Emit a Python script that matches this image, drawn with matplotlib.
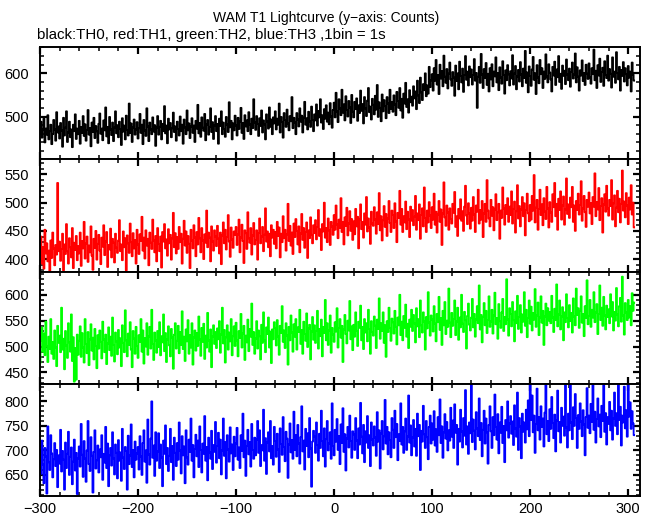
import numpy as np
import matplotlib
matplotlib.use('Agg')
import matplotlib.pyplot as plt
from matplotlib.ticker import MultipleLocator

plt.rcParams['font.family'] = ['Liberation Sans', 'DejaVu Sans']

title = 'WAM T1 Lightcurve (y\u2212axis: Counts)'
subtitle = 'black:TH0, red:TH1, green:TH2, blue:TH3 ,1bin = 1s'

t_start = -300   # first bin (s), 1 bin = 1 s

# TH0 (black)
th0 = [
    462, 488, 451, 470, 495, 440, 472, 458, 503, 447, 466, 481, 436, 459, 492, 470, 444, 510, 463, 477,
    449, 485, 468, 430, 497, 456, 474, 512, 441, 463, 488, 452, 470, 429, 481, 466, 505, 448, 472, 459,
    490, 437, 476, 462, 501, 455, 482, 444, 469, 515, 458, 473, 431, 486, 464, 497, 450, 478, 466, 439,
    483, 507, 460, 472, 445, 491, 468, 521, 454, 476, 438, 499, 470, 457, 486, 443, 474, 512, 461, 480,
    452, 488, 471, 434, 496, 465, 479, 447, 502, 469, 456, 530, 462, 484, 441, 475, 493, 458, 470, 487,
    449, 473, 506, 462, 481, 436, 492, 468, 455, 519, 477, 443, 486, 470, 459, 498, 465, 480, 432, 474,
    501, 458, 476, 490, 447, 483, 466, 524, 461, 479, 438, 495, 470, 485, 452, 473, 509, 464, 477, 444,
    488, 471, 456, 500, 466, 481, 437, 493, 475, 459, 514, 468, 484, 450, 477, 496, 462, 479, 441, 490,
    472, 527, 461, 485, 453, 498, 474, 467, 506, 445, 481, 492, 458, 476, 519, 464, 487, 448, 479, 501,
    466, 483, 437, 495, 478, 512, 459, 486, 471, 453, 499, 481, 464, 533, 475, 490, 447, 484, 468, 502,
    479, 456, 497, 471, 488, 520, 462, 485, 448, 503, 477, 491, 466, 510, 482, 459, 495, 473, 540, 486,
    469, 501, 483, 455, 496, 478, 514, 463, 491, 482, 447, 505, 488, 472, 521, 476, 493, 459, 498, 484,
    512, 470, 495, 481, 530, 463, 499, 487, 451, 508, 492, 476, 516, 484, 468, 501, 489, 545, 473, 497,
    486, 459, 508, 493, 477, 519, 488, 502, 463, 497, 534, 481, 496, 470, 511, 489, 476, 523, 492, 466,
    505, 491, 528, 479, 513, 498, 540, 486, 503, 471, 517, 495, 526, 488, 509, 482, 531, 500, 474, 515,
    532, 498, 555, 512, 487, 540, 519, 503, 562, 509, 528, 491, 547, 515, 500, 536, 521, 485, 550, 511,
    498, 534, 517, 542, 490, 526, 508, 560, 513, 529, 484, 545, 519, 501, 537, 566, 510, 523, 493, 541,
    527, 505, 548, 516, 573, 499, 533, 520, 489, 551, 512, 538, 524, 496, 545, 530, 508, 562, 518, 534,
    511, 549, 528, 503, 557, 536, 520, 566, 514, 541, 497, 553, 530, 578, 522, 540, 509, 561, 533, 546,
    525, 570, 542, 558, 517, 583, 549, 531, 590, 556, 538, 575, 561, 600, 547, 572, 553, 615, 568, 584,
    598, 560, 612, 583, 631, 574, 596, 552, 620, 588, 605, 570, 641, 592, 578, 610, 565, 599, 625, 586,
    571, 603, 590, 548, 618, 582, 600, 563, 627, 594, 579, 611, 557, 596, 640, 585, 604, 572, 616, 591,
    609, 574, 596, 633, 583, 601, 520, 592, 615, 578, 645, 597, 566, 610, 589, 624, 573, 599, 558, 612,
    586, 621, 570, 604, 593, 637, 579, 601, 561, 614, 590, 576, 628, 596, 553, 607, 584, 619, 598, 572,
    605, 588, 642, 574, 599, 617, 563, 593, 608, 581, 626, 597, 570, 611, 589, 652, 578, 602, 556, 616,
    594, 571, 609, 638, 585, 600, 552, 619, 590, 577, 631, 598, 612, 566, 604, 587, 644, 593, 579, 621,
    602, 586, 558, 615, 595, 627, 573, 609, 591, 640, 580, 599, 564, 618, 594, 606, 575, 632, 597, 584,
    611, 569, 603, 625, 588, 597, 646, 579, 614, 592, 560, 607, 595, 630, 582, 601, 573, 620, 599, 587,
    623, 590, 576, 612, 598, 655, 584, 606, 566, 619, 595, 634, 580, 603, 613, 571, 628, 596, 589, 641,
    583, 610, 599, 567, 637, 592, 604, 578, 649, 601, 586, 615, 560, 608, 594, 626, 581, 612, 598, 572,
    617, 590, 604, 558, 625, 597, 583,
]

# TH1 (red)
th1 = [
    405, 440, 392, 421, 383, 452, 410, 428, 396, 415, 377, 433, 402, 447, 419, 389, 425, 408, 535, 414,
    431, 397, 418, 445, 380, 426, 409, 462, 414, 392, 437, 421, 403, 455, 384, 429, 416, 441, 398, 423,
    410, 447, 388, 432, 419, 466, 401, 428, 440, 395, 424, 412, 458, 406, 381, 436, 420, 450, 399, 427,
    443, 415, 391, 438, 422, 460, 407, 431, 448, 386, 425, 417, 454, 403, 436, 429, 394, 445, 420, 411,
    433, 469, 414, 426, 398, 449, 421, 437, 380, 442, 428, 411, 463, 430, 405, 446, 419, 434, 392, 452,
    426, 409, 444, 432, 475, 415, 438, 401, 451, 424, 436, 389, 447, 429, 418, 470, 433, 412, 441, 396,
    455, 427, 414, 440, 385, 448, 431, 462, 419, 435, 406, 453, 428, 443, 399, 437, 482, 421, 446, 410,
    439, 418, 457, 430, 445, 392, 436, 468, 424, 449, 411, 441, 427, 384, 452, 433, 419, 460, 438, 405,
    448, 426, 473, 437, 412, 455, 433, 400, 444, 429, 486, 421, 447, 438, 396, 458, 431, 415, 451, 440,
    423, 459, 436, 410, 447, 391, 442, 465, 428, 452, 417, 439, 478, 431, 404, 456, 435, 420, 449, 443,
    457, 425, 444, 470, 412, 438, 461, 432, 393, 451, 446, 418, 483, 437, 429, 455, 408, 442, 464, 426,
    434, 451, 399, 446, 472, 428, 440, 457, 414, 443, 490, 431, 449, 421, 445, 405, 460, 438, 452, 427,
    448, 419, 466, 441, 456, 403, 445, 430, 476, 437, 452, 415, 444, 498, 432, 459, 424, 447, 409, 463,
    439, 471, 450, 426, 458, 412, 445, 480, 434, 455, 420, 448, 465, 402, 451, 437, 474, 443, 428, 460,
    446, 469, 435, 457, 487, 441, 453, 416, 462, 449, 500, 438, 455, 430, 472, 451, 425, 466, 458, 443,
    478, 452, 495, 461, 437, 470, 455, 508, 448, 466, 426, 474, 459, 491, 442, 463, 485, 450, 471, 434,
    467, 444, 489, 458, 475, 419, 470, 497, 453, 466, 438, 481, 461, 510, 449, 472, 456, 427, 484, 463,
    459, 492, 470, 445, 483, 462, 517, 451, 476, 433, 469, 494, 457, 480, 441, 472, 503, 464, 448, 486,
    478, 455, 499, 467, 430, 482, 473, 521, 461, 489, 448, 476, 465, 502, 453, 484, 470, 439, 493, 468,
    487, 460, 475, 512, 452, 481, 469, 497, 436, 478, 490, 458, 527, 473, 448, 486, 465, 501, 477, 455,
    492, 470, 516, 461, 484, 447, 479, 503, 466, 488, 425, 481, 536, 474, 459, 495, 483, 452, 490, 471,
    463, 498, 482, 519, 457, 476, 441, 489, 472, 506, 468, 485, 450, 493, 530, 477, 462, 499, 481, 454,
    491, 468, 510, 479, 448, 495, 484, 523, 463, 487, 470, 503, 439, 481, 498, 466, 540, 486, 472, 458,
    505, 477, 492, 451, 488, 515, 469, 483, 498, 436, 486, 473, 527, 490, 461, 496, 480, 508, 466, 493,
    478, 520, 463, 489, 502, 447, 485, 531, 472, 494, 458, 488, 510, 476, 499, 442, 487, 516, 481, 467,
    496, 470, 512, 486, 549, 465, 491, 505, 452, 489, 523, 478, 497, 460, 508, 484, 471, 528, 490, 456,
    501, 483, 466, 515, 492, 535, 476, 498, 452, 507, 487, 520, 470, 495, 511, 461, 488, 543, 480, 497,
    473, 509, 492, 528, 466, 495, 450, 503, 487, 516, 479, 496, 538, 468, 490, 512, 483, 457, 505, 493,
    518, 481, 499, 462, 510, 493, 552, 476, 501, 488, 526, 469, 494, 508, 447, 497, 515, 484, 530, 490,
    477, 505, 494, 540, 470, 499, 513, 458, 491, 521, 483, 507, 465, 498, 557, 486, 502, 474, 517, 495,
    462, 509, 488, 531, 479, 500, 456,
]

# TH2 (green)
th2 = [
    468, 512, 537, 490, 525, 483, 548, 501, 470, 519, 495, 553, 486, 509, 476, 531, 498, 462, 540, 507,
    521, 489, 575, 494, 515, 456, 530, 502, 478, 545, 508, 490, 562, 472, 518, 432, 497, 436, 523, 484,
    511, 539, 480, 526, 498, 469, 553, 505, 487, 528, 464, 514, 543, 492, 517, 475, 534, 501, 458, 522,
    496, 531, 509, 477, 548, 514, 489, 523, 466, 506, 537, 493, 519, 482, 556, 503, 471, 527, 510, 485,
    532, 498, 516, 462, 541, 507, 489, 570, 512, 481, 525, 503, 547, 494, 460, 530, 515, 486, 538, 501,
    478, 522, 509, 553, 490, 531, 467, 516, 500, 545, 484, 519, 538, 496, 571, 505, 474, 527, 512, 488,
    530, 499, 547, 483, 520, 508, 562, 491, 526, 470, 514, 539, 502, 481, 534, 517, 457, 523, 545, 496,
    511, 540, 487, 528, 503, 568, 495, 519, 472, 533, 510, 551, 486, 522, 498, 545, 465, 517, 531, 492,
    526, 501, 558, 514, 482, 536, 509, 544, 476, 521, 498, 565, 512, 490, 533, 460, 519, 541, 505, 528,
    497, 535, 514, 549, 488, 523, 575, 506, 532, 469, 518, 541, 494, 527, 510, 553, 483, 520, 539, 501,
    546, 512, 481, 530, 517, 563, 498, 525, 540, 474, 521, 508, 552, 491, 534, 519, 583, 503, 528, 486,
    515, 549, 496, 531, 520, 475, 542, 507, 566, 512, 489, 537, 524, 556, 498, 529, 468, 533, 514, 547,
    536, 502, 551, 519, 484, 540, 526, 578, 509, 531, 497, 545, 521, 465, 538, 512, 560, 527, 490, 543,
    519, 553, 494, 537, 528, 571, 505, 532, 486, 548, 524, 511, 564, 499, 535, 542, 475, 529, 557, 513,
    541, 507, 530, 569, 496, 534, 520, 552, 481, 538, 526, 590, 512, 545, 503, 531, 560, 488, 536, 523,
    509, 547, 529, 574, 498, 536, 553, 517, 540, 470, 533, 561, 524, 506, 550, 531, 588, 514, 539, 493,
    542, 519, 566, 530, 501, 548, 536, 579, 512, 538, 495, 553, 527, 545, 510, 571, 534, 486, 549, 528,
    521, 558, 540, 497, 552, 534, 593, 515, 545, 530, 566, 507, 541, 480, 549, 528, 575, 536, 511, 554,
    547, 525, 569, 538, 504, 556, 541, 600, 522, 548, 512, 559, 536, 581, 519, 544, 497, 552, 538, 571,
    530, 561, 545, 508, 574, 539, 553, 518, 589, 541, 527, 566, 548, 494, 557, 535, 605, 546, 521, 560,
    552, 529, 578, 544, 510, 563, 547, 596, 532, 555, 503, 569, 541, 586, 524, 550, 538, 612, 546, 518,
    565, 540, 553, 589, 522, 548, 575, 513, 556, 537, 600, 544, 528, 567, 551, 496, 559, 583, 542, 531,
    556, 592, 537, 563, 519, 552, 578, 545, 618, 533, 561, 508, 557, 584, 541, 569, 526, 551, 597, 538,
    548, 571, 525, 560, 604, 543, 555, 515, 582, 549, 536, 566, 592, 530, 557, 543, 630, 552, 521, 574,
    563, 539, 586, 551, 510, 568, 545, 598, 534, 557, 580, 527, 562, 548, 605, 540, 571, 518, 555, 589,
    544, 577, 531, 565, 552, 611, 538, 560, 585, 522, 556, 597, 546, 569, 503, 558, 583, 541, 574, 550,
    567, 545, 598, 556, 528, 573, 551, 620, 539, 562, 589, 533, 558, 576, 512, 566, 547, 601, 555, 537,
    580, 549, 565, 527, 593, 558, 541, 612, 561, 574, 536, 569, 597, 546, 563, 520, 578, 555, 628, 543,
    559, 590, 538, 571, 556, 605, 547, 566, 582, 524, 563, 618, 551, 575, 540, 596, 560, 533, 579, 557,
    572, 545, 601, 558, 586, 531, 567, 550, 613, 562, 539, 578, 594, 548, 635, 560, 523, 584, 566, 551,
    590, 556, 578, 541, 603, 569, 585,
]

# TH3 (blue)
th3 = [
    698, 652, 720, 671, 633, 705, 688, 612, 749, 676, 660, 731, 694, 645, 682, 715, 668, 701, 625, 690,
    673, 742, 657, 699, 681, 620, 716, 664, 693, 738, 650, 687, 706, 631, 677, 722, 659, 695, 611, 684,
    708, 667, 754, 691, 646, 719, 683, 636, 700, 760, 672, 658, 727, 689, 614, 697, 741, 663, 680, 710,
    655, 702, 686, 731, 640, 693, 675, 748, 664, 714, 627, 690, 705, 669, 737, 684, 651, 712, 695, 643,
    721, 679, 696, 638, 744, 685, 662, 707, 699, 620, 730, 672, 690, 753, 666, 701, 645, 718, 681, 694,
    707, 661, 729, 688, 650, 715, 741, 677, 700, 634, 763, 692, 671, 724, 800, 685, 710, 648, 737, 679,
    698, 735, 664, 712, 686, 627, 720, 693, 751, 672, 705, 658, 689, 744, 676, 709, 640, 726, 695, 668,
    715, 681, 757, 700, 653, 729, 690, 708, 633, 741, 686, 671, 722, 697, 765, 679, 711, 645, 703, 732,
    688, 720, 666, 749, 701, 655, 714, 693, 770, 679, 707, 639, 726, 696, 683, 740, 662, 711, 697, 758,
    675, 709, 736, 684, 722, 651, 700, 765, 689, 717, 643, 731, 702, 677, 747, 694, 712, 660, 728, 688,
    714, 746, 681, 706, 664, 731, 699, 775, 686, 720, 648, 709, 742, 692, 717, 667, 754, 701, 683, 726,
    690, 722, 760, 695, 741, 668, 711, 700, 783, 679, 725, 652, 716, 737, 698, 760, 684, 709, 671, 748,
    719, 687, 734, 702, 656, 745, 713, 691, 768, 707, 678, 738, 724, 644, 712, 755, 696, 721, 683, 779,
    701, 731, 688, 752, 714, 673, 727, 790, 698, 720, 661, 744, 709, 735, 686, 766, 704, 626, 718, 740,
    728, 695, 757, 711, 679, 734, 705, 781, 719, 688, 745, 667, 723, 760, 700, 714, 737, 683, 796, 709,
    690, 742, 718, 764, 701, 729, 672, 753, 715, 786, 697, 733, 659, 724, 748, 706, 771, 719, 685, 739,
    733, 701, 766, 720, 684, 745, 712, 797, 728, 694, 752, 676, 739, 716, 770, 705, 731, 668, 757, 722,
    710, 749, 726, 689, 778, 718, 741, 663, 735, 760, 702, 729, 803, 714, 748, 692, 737, 721, 686, 766,
    742, 705, 781, 727, 754, 680, 733, 719, 796, 712, 748, 695, 739, 765, 701, 728, 812, 716, 751, 690,
    726, 762, 708, 744, 689, 775, 729, 752, 660, 740, 718, 791, 733, 705, 760, 727, 682, 748, 771, 714,
    755, 722, 780, 710, 743, 697, 768, 731, 804, 715, 749, 685, 737, 774, 724, 758, 700, 741, 720, 787,
    728, 761, 705, 794, 736, 752, 671, 744, 718, 783, 739, 706, 766, 730, 823, 712, 749, 693, 757, 735,
    835, 717, 763, 740, 702, 778, 745, 729, 806, 721, 756, 688, 742, 781, 714, 765, 737, 673, 752, 790,
    739, 705, 768, 731, 814, 748, 722, 774, 694, 757, 736, 789, 715, 750, 676, 762, 741, 800, 726, 755,
    770, 734, 759, 711, 792, 745, 728, 818, 701, 766, 749, 684, 775, 738, 757, 716, 783, 743, 802, 729,
    835, 762, 812, 737, 771, 695, 754, 826, 741, 768, 722, 790, 748, 765, 708, 777, 835, 733, 760, 719,
    784, 744, 809, 756, 725, 773, 698, 761, 822, 739, 758, 716, 787, 750, 769, 730, 835, 747, 706, 775,
    741, 835, 757, 723, 788, 750, 815, 766, 705, 772, 744, 796, 759, 729, 782, 753, 690, 768, 827, 746,
    771, 735, 795, 758, 835, 742, 779, 716, 764, 806, 749, 773, 727, 791, 760, 835, 738, 776, 712, 768,
    754, 799, 741, 781, 722, 765, 818, 750, 776, 733, 835, 762, 789, 710, 771, 757, 830, 745, 782, 728,
    835, 769, 798, 744, 780, 755, 731,
]

series = [th0, th1, th2, th3]
colors = ['black', '#ff0000', '#00ff00', '#0000ff']
ylims = [(401, 661), (378, 577), (428, 645), (607, 836)]
ymajor = [100, 50, 50, 50]
yminor = [20, 10, 10, 10]

fig, axes = plt.subplots(4, 1, sharex=True, figsize=(6.52, 5.15), dpi=100)
fig.subplots_adjust(left=40/652, right=640/652, top=1-47/515, bottom=1-496/515, hspace=0)

for ax, y, c, yl, ma, mi in zip(axes, series, colors, ylims, ymajor, yminor):
    x = np.arange(len(y)) + t_start
    ax.step(x, y, where='mid', color=c, lw=1.3)
    ax.set_xlim(-300, 312)
    ax.set_ylim(*yl)
    ax.xaxis.set_major_locator(MultipleLocator(100))
    ax.xaxis.set_minor_locator(MultipleLocator(20))
    ax.yaxis.set_major_locator(MultipleLocator(ma))
    ax.yaxis.set_minor_locator(MultipleLocator(mi))
    ax.tick_params(which='both', direction='in', top=True, right=True, labelsize=10.5)
    ax.tick_params(which='major', length=5, width=1.6)
    ax.tick_params(which='minor', length=3, width=1.1)
    ax.tick_params(axis='y', pad=8)
    for s in ax.spines.values():
        s.set_linewidth(1.4)

axes[-1].tick_params(axis='x', pad=4)

fig.text(0.5, 1-18/515, title, ha='center', va='center', fontsize=10)
fig.text(37/652, 1-35/515, subtitle, ha='left', va='center', fontsize=10.8)

fig.savefig('out.png', dpi=100)
